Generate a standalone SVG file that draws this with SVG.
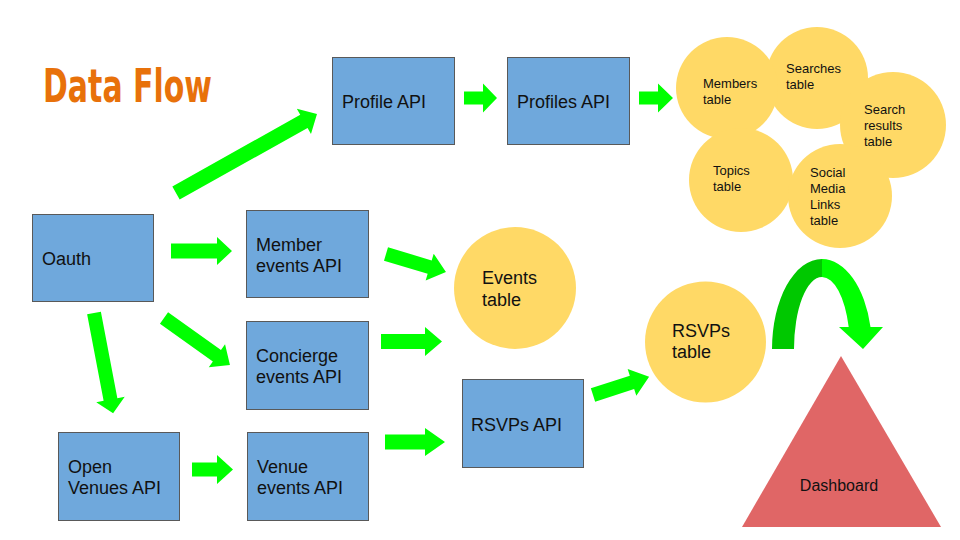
<svg xmlns="http://www.w3.org/2000/svg" width="960" height="540" viewBox="0 0 960 540">
<style>
.box{fill:#6fa8dc;stroke:#595959;stroke-width:1}
.tbl{fill:#ffd966}
.t{font-family:"Liberation Sans",Arial,sans-serif;font-size:18px;fill:#111}
.s{font-family:"Liberation Sans",Arial,sans-serif;font-size:13px;fill:#111}
.arr{fill:#00ff00}
.title{font-family:"Liberation Sans Narrow","DejaVu Sans Condensed","Liberation Sans",sans-serif;font-weight:bold;font-size:46px;fill:#e8710a}
</style>
<rect width="960" height="540" fill="#ffffff"/>
<text class="title" x="43" y="102" textLength="169" lengthAdjust="spacingAndGlyphs">Data Flow</text>

<g id="connectors">
<polygon class="arr" transform="translate(176,193) rotate(-29.26)" points="0,-7.5 146.6,-7.5 146.6,-14.5 161.6,0 146.6,14.5 146.6,7.5 0,7.5"/>
<polygon class="arr" transform="translate(464,98)" points="0,-6.5 19,-6.5 19,-14.5 33,0 19,14.5 19,6.5 0,6.5"/>
<polygon class="arr" transform="translate(639,98)" points="0,-6.5 19,-6.5 19,-14.5 34,0 19,14.5 19,6.5 0,6.5"/>
<polygon class="arr" transform="translate(171,251)" points="0,-7.5 46,-7.5 46,-14 61,0 46,14 46,7.5 0,7.5"/>
<polygon class="arr" transform="translate(386,254) rotate(16.7)" points="0,-7 45.6,-7 45.6,-14 62.6,0 45.6,14 45.6,7 0,7"/>
<polygon class="arr" transform="translate(164,318) rotate(35.5)" points="0,-7 65,-7 65,-14 81,0 65,14 65,7 0,7"/>
<polygon class="arr" transform="translate(381,341.5)" points="0,-7.5 44,-7.5 44,-14.5 61,0 44,14.5 44,7.5 0,7.5"/>
<polygon class="arr" transform="translate(385,442)" points="0,-7.5 40,-7.5 40,-14 60,0 40,14 40,7.5 0,7.5"/>
<polygon class="arr" transform="translate(593,395) rotate(-18)" points="0,-7 41,-7 41,-14 59,0 41,14 41,7 0,7"/>
<polygon class="arr" transform="translate(94,313) rotate(79.2)" points="0,-7 88,-7 88,-14.5 102,0 88,14.5 88,7 0,7"/>
<polygon class="arr" transform="translate(192,469.5)" points="0,-7 25,-7 25,-14.5 41,0 25,14.5 25,7 0,7"/>
<path fill="#00c800" d="M772,349 A50,90 0 0 1 822,259 L822,277 A28,72 0 0 0 794,349 Z"/>
<path class="arr" d="M822,259 A50,90 0 0 1 870.5,327 L883,327 L863,349 L839,327 L848.7,327 A28,72 0 0 0 822,277 Z"/>
</g>

<g id="profile-api"><rect class="box" x="332.5" y="57.5" width="122" height="87"/><text class="t" x="342" y="108">Profile API</text></g>
<g id="profiles-api"><rect class="box" x="507.5" y="57.5" width="122" height="87"/><text class="t" x="517" y="108">Profiles API</text></g>
<g id="oauth"><rect class="box" x="32.5" y="214.5" width="121" height="87"/><text class="t" x="42" y="265">Oauth</text></g>
<g id="member-events-api"><rect class="box" x="246.5" y="210.5" width="122" height="87"/><text class="t" x="256" y="251">Member</text><text class="t" x="256" y="272">events API</text></g>
<g id="concierge-events-api"><rect class="box" x="246.5" y="321.5" width="122" height="88"/><text class="t" x="256" y="362">Concierge</text><text class="t" x="256" y="383">events API</text></g>
<g id="rsvps-api"><rect class="box" x="462.5" y="379.5" width="121" height="88"/><text class="t" x="471" y="431">RSVPs API</text></g>
<g id="open-venues-api"><rect class="box" x="58.5" y="432.5" width="121" height="88"/><text class="t" x="68" y="473">Open</text><text class="t" x="68" y="494">Venues API</text></g>
<g id="venue-events-api"><rect class="box" x="247.5" y="432.5" width="121" height="88"/><text class="t" x="257" y="473">Venue</text><text class="t" x="257" y="494">events API</text></g>

<g id="events-table"><circle class="tbl" cx="515" cy="288" r="61"/><text class="t" x="482" y="284">Events</text><text class="t" x="482" y="306">table</text></g>
<g id="rsvps-table"><circle class="tbl" cx="705.5" cy="342" r="60.5"/><text class="t" x="672" y="337">RSVPs</text><text class="t" x="672" y="358">table</text></g>

<g id="searches-table"><circle class="tbl" cx="817" cy="78" r="51"/><text class="s" x="786" y="73">Searches</text><text class="s" x="786" y="89">table</text></g>
<g id="members-table"><circle class="tbl" cx="727" cy="88" r="51"/><text class="s" x="703" y="88">Members</text><text class="s" x="703" y="104">table</text></g>
<g id="search-results-table"><circle class="tbl" cx="893" cy="125" r="53"/><text class="s" x="864" y="114">Search</text><text class="s" x="864" y="130">results</text><text class="s" x="864" y="146">table</text></g>
<g id="topics-table"><circle class="tbl" cx="741" cy="180" r="52"/><text class="s" x="713" y="175">Topics</text><text class="s" x="713" y="191">table</text></g>
<g id="social-media-links-table"><circle class="tbl" cx="840" cy="196" r="52"/><text class="s" x="810" y="177">Social</text><text class="s" x="810" y="193">Media</text><text class="s" x="810" y="209">Links</text><text class="s" x="810" y="225">table</text></g>

<g id="dashboard"><polygon fill="#e06666" points="841,356 742,527 941,527"/><text x="839" y="491" text-anchor="middle" font-family="'Liberation Sans',Arial,sans-serif" font-size="16" fill="#111">Dashboard</text></g>
</svg>
